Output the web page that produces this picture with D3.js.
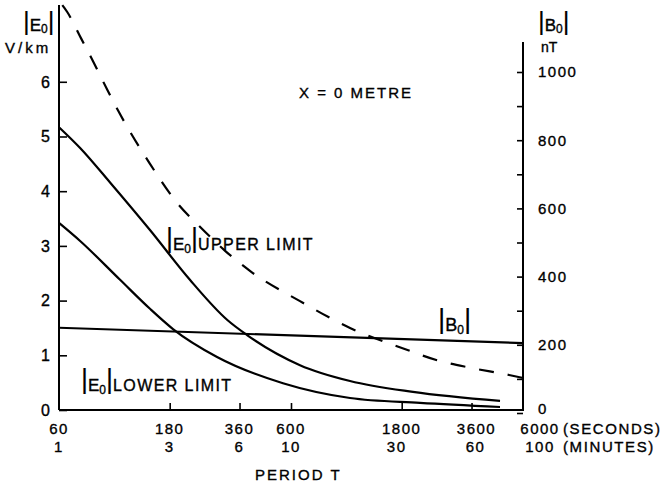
<!DOCTYPE html>
<html><head><meta charset="utf-8">
<script src="https://cdn.jsdelivr.net/npm/d3@7"></script>
<style>
body{margin:0;background:#fff}
text{font-family:"Liberation Sans",Arial,Helvetica,sans-serif;fill:#000;stroke:#000;stroke-width:0.35px}
</style>
</head><body>
<svg id="c" width="661" height="487"></svg>
<script>
// ---- data ----
const periodTicks = [60, 180, 360, 600, 1800, 3600, 6000];
const secondsLabels = ["60", "180", "360", "600", "1800", "3600", "6000"];
const minutesLabels = ["1", "3", "6", "10", "30", "60", "100"];
const eTicks = [0, 1, 2, 3, 4, 5, 6];
const bTicks = [0, 100, 200, 300, 400, 500, 600, 700, 800, 900, 1000];
const bLabels = [0, 200, 400, 600, 800, 1000];

// dashed curve (V/km)
const dashedPeriod = [62, 65, 75, 84, 97, 108, 148, 195, 243, 312, 403, 656, 1078, 1841, 2556, 3582, 5224, 6000];
const dashedE = [7.40, 7.28, 6.78, 6.38, 5.85, 5.47, 4.50, 3.77, 3.35, 2.91, 2.53, 1.99, 1.50, 1.12, 0.91, 0.77, 0.64, 0.585];
// |E0| upper limit (V/km)
const upperPeriod = [60, 74, 100, 148, 220, 318, 388, 656, 1078, 2013, 4776];
const upperE = [5.17, 4.79, 4.15, 3.29, 2.38, 1.65, 1.37, 0.82, 0.53, 0.33, 0.165];
// |E0| lower limit (V/km)
const lowerPeriod = [60, 74, 110, 148, 186, 288, 554, 1078, 2158, 4776];
const lowerE = [3.42, 3.09, 2.38, 1.85, 1.48, 0.97, 0.49, 0.22, 0.13, 0.055];
// |B0| (nT)
const bPeriod = [60, 6000];
const bValues = [250, 205];

// ---- scales ----
const svg = d3.select("#c");
svg.append("rect").attr("width", 661).attr("height", 487).attr("fill", "#fff");
const x = d3.scaleLog().domain([60, 6000]).range([59, 523]);
const yE = d3.scaleLinear().domain([0, 7.4]).range([410, 5.2]);
const yB = d3.scaleLinear().domain([0, 1000]).range([413, 72]);

const FS = 15;
const line = d3.line().curve(d3.curveMonotoneX);

// ---- axes ----
// bottom
const bottom = svg.append("g").attr("transform", "translate(0,410)");
bottom.call(d3.axisBottom(x).tickValues(periodTicks.slice(1, -1)).tickSize(-7).tickFormat(""));
bottom.select(".domain").remove();
bottom.selectAll("line").attr("stroke", "#000").attr("stroke-width", 1.6);
svg.append("line").attr("x1", x(60)).attr("x2", x(6000)).attr("y1", 410).attr("y2", 410)
  .attr("stroke", "#000").attr("stroke-width", 2);

// left
const left = svg.append("g").attr("transform", "translate(" + x(60) + ",0)");
left.call(d3.axisLeft(yE).tickValues(eTicks).tickSize(-8).tickFormat(""));
left.select(".domain").remove();
left.selectAll("line").attr("stroke", "#000").attr("stroke-width", 1.6);
svg.append("line").attr("x1", x(60)).attr("x2", x(60)).attr("y1", 410).attr("y2", 5)
  .attr("stroke", "#000").attr("stroke-width", 2);
svg.append("g").selectAll("text").data(eTicks).join("text")
  .attr("x", 50).attr("y", d => yE(d)).attr("dy", "0.36em")
  .attr("text-anchor", "end").attr("font-size", FS + 1).text(d => d);

// right
const right = svg.append("g").attr("transform", "translate(" + x(6000) + ",0)");
right.call(d3.axisRight(yB).tickValues(bTicks).tickSize(-6).tickFormat(""));
right.select(".domain").remove();
right.selectAll("line").attr("stroke", "#000").attr("stroke-width", 1.6);
svg.append("line").attr("x1", x(6000)).attr("x2", x(6000)).attr("y1", 411).attr("y2", 42)
  .attr("stroke", "#000").attr("stroke-width", 2);
svg.append("g").selectAll("text").data(bLabels).join("text")
  .attr("x", 538).attr("y", d => yB(d) - (d === 0 ? 4 : 0)).attr("dy", "0.36em")
  .attr("font-size", FS).attr("letter-spacing", 1.5).text(d => d);

// bottom labels
svg.append("g").selectAll("text").data(periodTicks).join("text")
  .attr("x", (d, i) => x(d) + (i === 6 ? 17 : i === 5 ? 5 : 0)).attr("y", 434)
  .attr("text-anchor", "middle").attr("font-size", FS).attr("letter-spacing", 1.5)
  .text((d, i) => secondsLabels[i]);
svg.append("g").selectAll("text").data(periodTicks).join("text")
  .attr("x", (d, i) => x(d) + (i === 6 ? 17 : i === 5 ? 4 : i === 4 ? -5 : 0)).attr("y", 452)
  .attr("text-anchor", "middle").attr("font-size", FS).attr("letter-spacing", 1.5)
  .text((d, i) => minutesLabels[i]);
svg.append("text").attr("x", 563).attr("y", 434).attr("font-size", FS).attr("letter-spacing", 1.6).text("(SECONDS)");
svg.append("text").attr("x", 563).attr("y", 452).attr("font-size", FS).attr("letter-spacing", 1.6).text("(MINUTES)");
svg.append("text").attr("x", 255).attr("y", 480).attr("font-size", FS).attr("letter-spacing", 2).text("PERIOD T");

// ---- curves ----
const pts = (ps, vs, ys) => ps.map((p, i) => [x(p), ys(vs[i])]);
svg.append("path").attr("d", line(pts(dashedPeriod, dashedE, yE)))
  .attr("fill", "none").attr("stroke", "#000").attr("stroke-width", 2.2).attr("stroke-dasharray", "15,14");
svg.append("path").attr("d", line(pts(upperPeriod, upperE, yE)))
  .attr("fill", "none").attr("stroke", "#000").attr("stroke-width", 2.2);
svg.append("path").attr("d", line(pts(lowerPeriod, lowerE, yE)))
  .attr("fill", "none").attr("stroke", "#000").attr("stroke-width", 2.2);
svg.append("path").attr("d", d3.line()(pts(bPeriod, bValues, yB)))
  .attr("fill", "none").attr("stroke", "#000").attr("stroke-width", 2.2);

// ---- modulus labels ----
function absLabel(x0, base, letter, suffix, o) {
  const t = svg.append("text").attr("x", x0).attr("y", base);
  t.append("tspan").attr("font-size", o.bar).attr("dy", -o.lift).attr("stroke-width", 0.1).text("|");
  t.append("tspan").attr("font-size", o.let).attr("dy", o.lift).text(letter);
  t.append("tspan").attr("font-size", o.sub).attr("dy", o.subDy).text("0");
  t.append("tspan").attr("font-size", o.bar).attr("dy", -o.subDy - o.lift).attr("stroke-width", 0.1).text("|");
  if (suffix) t.append("tspan").attr("font-size", 16).attr("letter-spacing", 1.4).attr("dy", o.lift).text(suffix);
  return t;
}
absLabel(23, 31, "E", "", {bar: 26, let: 17, sub: 12, subDy: 2, lift: 1});
svg.append("text").attr("x", 5).attr("y", 53).attr("font-size", FS).attr("letter-spacing", 3).text("V/km");
absLabel(538, 31, "B", "", {bar: 26, let: 17, sub: 12, subDy: 2, lift: 1});
svg.append("text").attr("x", 541).attr("y", 52).attr("font-size", 14).text("nT");

absLabel(166, 250, "E", "UPPER LIMIT", {bar: 27, let: 17, sub: 12, subDy: 3, lift: 3});
absLabel(81, 391, "E", "LOWER LIMIT", {bar: 27, let: 17, sub: 12, subDy: 3, lift: 3});
absLabel(438, 331, "B", "", {bar: 28, let: 18, sub: 12, subDy: 3, lift: 3});

svg.append("text").attr("x", 299).attr("y", 98).attr("font-size", FS).attr("letter-spacing", 2).text("X = 0 METRE");
</script>
</body></html>
